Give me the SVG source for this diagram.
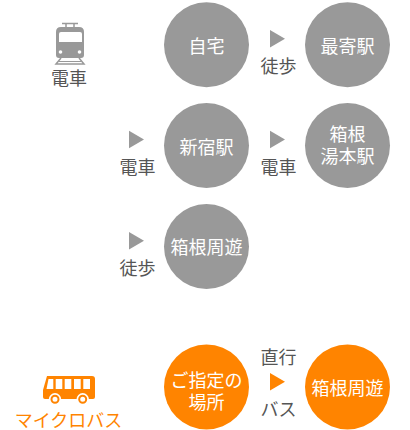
<svg xmlns="http://www.w3.org/2000/svg" width="410" height="430" viewBox="0 0 410 430">
<style>
text{font-family:"Noto Sans CJK JP","Noto Sans",sans-serif;font-size:18px;font-weight:400;text-anchor:middle}
.w{fill:#fff}.l{fill:#555}.g{fill:#999}.o{fill:#ff8400}
</style>
<rect width="410" height="430" fill="#fff"/>
<g id="icon-train">
<path class="g" d="M56 32q0-5 5-5h18q5 0 5 5v23a3 3 0 0 1-3 3H59a3 3 0 0 1-3-3Z"/>
<path d="M59 42V34q0-2 2-2h19q2 0 2 2V42Z" fill="#fff"/>
<circle cx="60.500" cy="52" r="1.800" fill="#fff"/><circle cx="79.500" cy="52" r="1.800" fill="#fff"/>
<path d="M62 23.500H78M66 24V27M74 24V27" stroke="#999" stroke-width="1.500" fill="none"/>
<path d="M61 58L56 64H84L79 58" stroke="#999" stroke-width="1.500" fill="none"/>
<path d="M58.500 61.500H81.500" stroke="#999" stroke-width="1"/>
<text class="l" x="69" y="85">電車</text>
</g>
<g id="icon-bus">
<path class="o" d="M47 376H92a3 3 0 0 1 3 3v18a2 2 0 0 1-2 2H45a2 2 0 0 1-2-2v-7Z"/>
<path d="M48.500 379H53.300V389H46.500ZM55.700 379H62.300V389H55.700ZM64.700 379H71.300V389H64.700ZM74 379H80.700V389H74ZM83.300 379H90V389H83.300Z" fill="#fff"/>
<circle cx="55" cy="399.300" r="6.200" fill="#fff"/><circle cx="55" cy="399.300" r="3.500" fill="#fff" stroke="#ff8400" stroke-width="2"/>
<circle cx="82.700" cy="399.300" r="6.200" fill="#fff"/><circle cx="82.700" cy="399.300" r="3.500" fill="#fff" stroke="#ff8400" stroke-width="2"/>
<text class="o" x="68.500" y="427">マイクロバス</text>
</g>
<g id="node-home"><circle class="g" cx="206.500" cy="44.800" r="42.500"/><text class="w" x="206.500" y="53">自宅</text></g>
<g id="node-nearest"><circle class="g" cx="347.500" cy="44.800" r="42.500"/><text class="w" x="347.500" y="53">最寄駅</text></g>
<g id="node-shinjuku"><circle class="g" cx="206.500" cy="145.500" r="42.500"/><text class="w" x="206.500" y="154">新宿駅</text></g>
<g id="node-yumoto"><circle class="g" cx="347.500" cy="145.500" r="42.500"/><text class="w"><tspan x="347.500" y="141">箱根</tspan><tspan x="347.500" y="163">湯本駅</tspan></text></g>
<g id="node-shuyu"><circle class="g" cx="206.500" cy="246.500" r="42.500"/><text class="w" x="206.500" y="254">箱根周遊</text></g>
<g id="node-pickup"><circle class="o" cx="206.500" cy="387" r="42.500"/><text class="w"><tspan x="206.500" y="387">ご指定の</tspan><tspan x="206.500" y="409">場所</tspan></text></g>
<g id="node-shuyu2"><circle class="o" cx="347.500" cy="387" r="42.500"/><text class="w" x="347.500" y="395">箱根周遊</text></g>
<g id="connectors">
<path class="g" d="M270 30L285 38.800L270 47.600Z"/><text class="l" x="278.500" y="73">徒歩</text>
<path class="g" d="M129 130.700L144 139.500L129 148.300Z"/><text class="l" x="137.500" y="174">電車</text>
<path class="g" d="M270 130.700L285 139.500L270 148.300Z"/><text class="l" x="278.500" y="174">電車</text>
<path class="g" d="M129 232L144 240.800L129 249.600Z"/><text class="l" x="137.500" y="275">徒歩</text>
<path class="o" d="M270 373L285 381.800L270 390.600Z"/><text class="l" x="278.500" y="364">直行</text><text class="l" x="278.500" y="416">バス</text>
</g>
</svg>
